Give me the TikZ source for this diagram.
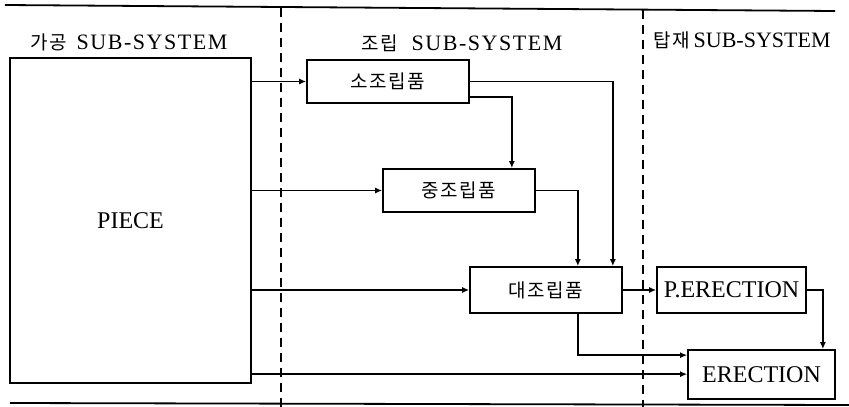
\documentclass[tikz,border=0pt]{standalone}
\usepackage{fontspec}
\setmainfont{Liberation Serif}
\newfontfamily\kr[LetterSpace=8]{Noto Sans CJK KR}
\newfontfamily\spaced[LetterSpace=7]{Liberation Serif}
\usetikzlibrary{arrows.meta}
\begin{document}
\begin{tikzpicture}[x=1pt,y=-1pt,
  boxnode/.style={draw,line width=1.7pt,inner sep=0pt,font=\fontsize{24}{26}\selectfont},
  conn/.style={line width=1.7pt},
  arr/.style={conn,-{Latex[length=7pt,width=6pt]}},
  sep/.style={line width=1.6pt,dash pattern=on 9pt off 6pt},
  rule/.style={line width=1.8pt},
  head/.style={anchor=west,inner sep=0pt,font=\fontsize{22}{24}\selectfont}]
\useasboundingbox (0,0) rectangle (849,407);
% rules and separators
\draw[rule] (5,5) -- (835,11);
\draw[rule] (10,403) -- (849,405);
\draw[sep] (281,8) -- (281,407);
\draw[sep] (643,10) -- (643,407);
% headers
\node[head] (h1) at (30,42) {{\kr\fontsize{19}{21}\selectfont 가공}\hspace{10pt}{\spaced SUB-SYSTEM}};
\node[head] (h2) at (361,43) {{\kr\fontsize{19}{21}\selectfont 조립}\hspace{14pt}{\spaced SUB-SYSTEM}};
\node[head] (h3) at (653,40) {{\kr\fontsize{19}{21}\selectfont 탑재}\hspace{4pt}SUB-SYSTEM};
% boxes
\node[boxnode,minimum width=241pt,minimum height=325pt] (piece) at (130.5,220.5) {PIECE};
\node[boxnode,minimum width=162pt,minimum height=43pt] (so) at (388,81.5) {\kr\fontsize{19}{21}\selectfont 소조립품};
\node[boxnode,minimum width=152pt,minimum height=43pt] (jung) at (459,190.5) {\kr\fontsize{19}{21}\selectfont 중조립품};
\node[boxnode,minimum width=152pt,minimum height=46pt] (dae) at (546,290) {\kr\fontsize{19}{21}\selectfont 대조립품};
\node[boxnode,minimum width=149pt,minimum height=46pt] (pe) at (731.5,290) {P.ERECTION};
\node[boxnode,minimum width=147pt,minimum height=49pt] (er) at (761.5,374.5) {ERECTION};
% helper coordinates
\coordinate (erA) at ([yshift=-6pt]er.north west);
\coordinate (erB) at ([yshift=-25pt]er.north west);
% connectors from PIECE
\draw[arr] (piece.east |- so.west) -- (so.west);
\draw[arr] (piece.east |- jung.west) -- (jung.west);
\draw[arr] (piece.east |- dae.west) -- (dae.west);
\draw[arr] (piece.east |- erB) -- (erB);
% assembly flow
\draw[arr] ([yshift=7pt]so.south east) -| ([xshift=-24pt]jung.north east);
\draw[arr] (so.east) -| ([xshift=-10pt]dae.north east);
\draw[arr] (jung.east) -| ([xshift=-45pt]dae.north east);
\draw[arr] (dae.east) -- (pe.west);
\draw[arr] (pe.east) -| ([xshift=-13pt]er.north east);
\draw[arr] ([xshift=-45pt]dae.south east) |- (erA);
\end{tikzpicture}
\end{document}
